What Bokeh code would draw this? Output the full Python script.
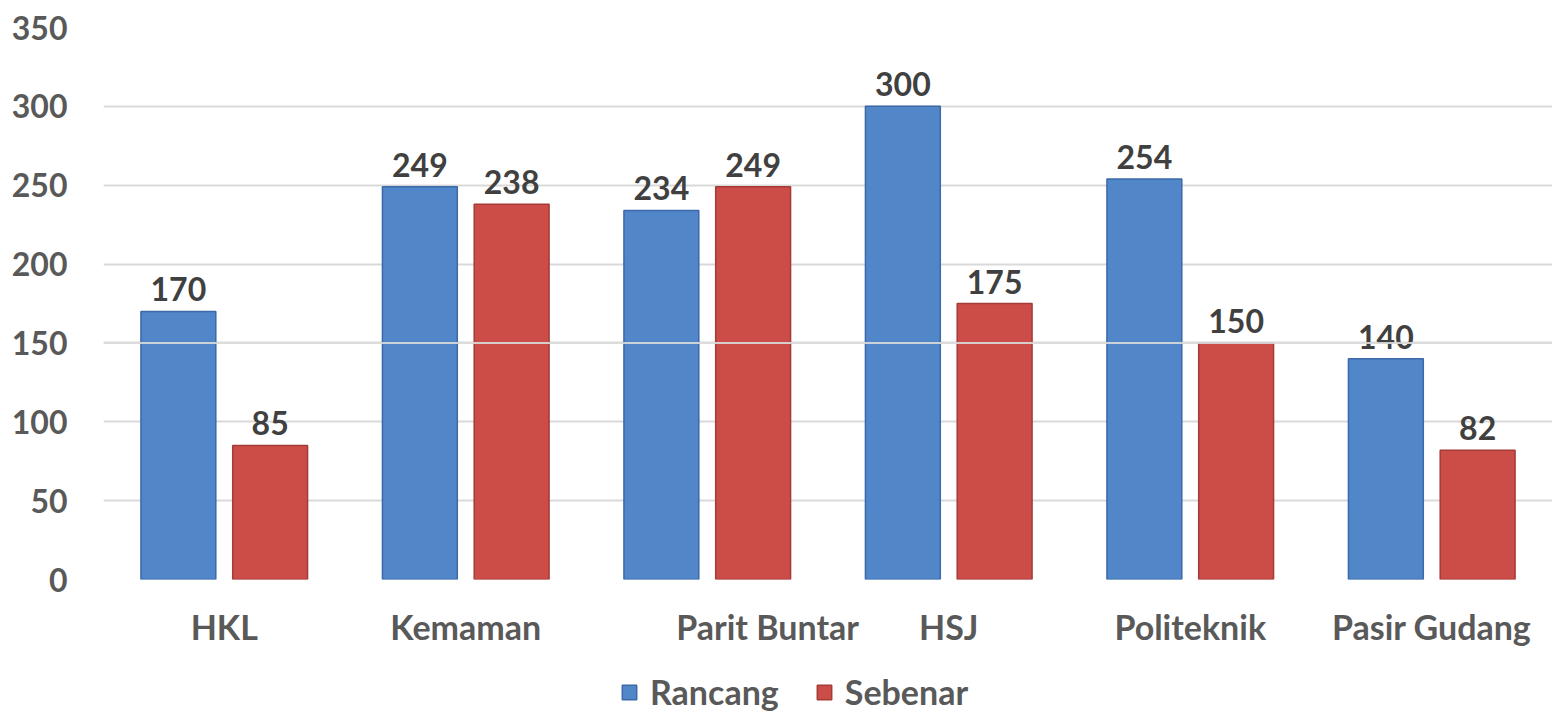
import numpy as np
from bokeh.plotting import figure
from bokeh.layouts import column
from bokeh.models import ColumnDataSource, FixedTicker, Span, Legend, LegendItem, Range1d
from bokeh.core.properties import value
from bokeh.embed import file_html
from bokeh.resources import INLINE

categories = ["HKL", "Kemaman", "Parit Buntar", "HSJ", "Politeknik", "Pasir Gudang"]
rancang = [170, 249, 234, 300, 254, 140]
sebenar = [85, 238, 249, 175, 150, 82]
series_names = ["Rancang", "Sebenar"]
y_ticks = [0, 50, 100, 150, 200, 250, 300, 350]

FONT = "Lato"
BLUE, BLUE_EDGE = "#5186C8", "#3C69A8"
RED, RED_EDGE = "#CC4D47", "#A33B36"
centers = np.arange(len(categories)) + 0.5
dodge = 0.19
bw = 0.31

src_r = ColumnDataSource(dict(x=centers - dodge, top=rancang, lbl=[str(v) for v in rancang]))
src_s = ColumnDataSource(dict(x=centers + dodge, top=sebenar, lbl=[str(v) for v in sebenar]))

p = figure(frame_width=1449, frame_height=552, output_backend="svg", toolbar_location=None,
           x_range=Range1d(0, len(categories)), y_range=Range1d(0, 350),
           min_border_left=103, min_border_right=0, min_border_top=27, min_border_bottom=0)
p.outline_line_color = None
p.background_fill_color = "white"
p.border_fill_color = "white"

p.vbar(x="x", top="top", width=bw, source=src_r, fill_color=BLUE,
       line_color=BLUE_EDGE, line_width=1.5)
p.vbar(x="x", top="top", width=bw, source=src_s, fill_color=RED,
       line_color=RED_EDGE, line_width=1.5)

for src in (src_r, src_s):
    p.text(x="x", y="top", text="lbl", source=src, text_align="center",
           text_baseline="alphabetic", y_offset=-22, text_font=value(FONT),
           text_font_style="bold", text_font_size="32px", text_color="#404040")

p.add_layout(Span(location=150, dimension="width", line_color="#DADADA",
                  line_width=2, line_alpha=0.9, level="overlay"))

# axes
p.yaxis.ticker = FixedTicker(ticks=y_ticks)
p.yaxis.axis_line_color = None
p.yaxis.major_tick_line_color = None
p.yaxis.minor_tick_line_color = None
p.yaxis.major_label_text_font = FONT
p.yaxis.major_label_text_font_style = "bold"
p.yaxis.major_label_text_font_size = "32px"
p.yaxis.major_label_text_color = "#595959"
p.yaxis.major_label_standoff = 30

label_pos = list(centers)
label_pos[2] = centers[2] + 0.25
p.xaxis.ticker = FixedTicker(ticks=label_pos)
p.xaxis.major_label_overrides = {float(pos): name for pos, name in zip(label_pos, categories)}
p.xaxis.axis_line_color = None
p.xaxis.major_tick_line_color = None
p.xaxis.minor_tick_line_color = None
p.xaxis.major_tick_in = 0
p.xaxis.major_tick_out = 0
p.xaxis.major_label_text_font = FONT
p.xaxis.major_label_text_font_style = "bold"
p.xaxis.major_label_text_font_size = "34px"
p.xaxis.major_label_text_color = "#595959"
p.xaxis.major_label_standoff = 26

p.xgrid.grid_line_color = None
p.ygrid.ticker = FixedTicker(ticks=y_ticks)
p.ygrid.grid_line_color = "#D9D9D9"
p.ygrid.grid_line_width = 2

# legend strip (hidden proxy renderers reuse the data)
p2 = figure(width=1552, height=65, output_backend="svg", toolbar_location=None,
            x_range=Range1d(0, len(categories)), y_range=Range1d(0, 350), min_border=0)
p2.axis.visible = False
p2.grid.grid_line_color = None
p2.outline_line_color = None
p2.border_fill_color = "white"
l1 = p2.vbar(x="x", top="top", width=bw, source=src_r, fill_color=BLUE,
             line_color=BLUE_EDGE, line_width=1.5, visible=False)
l2 = p2.vbar(x="x", top="top", width=bw, source=src_s, fill_color=RED,
             line_color=RED_EDGE, line_width=1.5, visible=False)
legend = Legend(items=[LegendItem(label=series_names[0], renderers=[l1]),
                       LegendItem(label=series_names[1], renderers=[l2])],
                orientation="horizontal", location=(517, 2),
                label_text_font=FONT, label_text_font_style="bold",
                label_text_font_size="34px", label_text_color="#595959",
                glyph_width=18, glyph_height=18, spacing=36, label_standoff=12,
                label_height=36, inactive_fill_alpha=0,
                border_line_color=None, background_fill_alpha=0, margin=0, padding=0)
p2.add_layout(legend, "center")

layout = column(p, p2, spacing=0)
open("out.html", "w").write(file_html(layout, INLINE))
